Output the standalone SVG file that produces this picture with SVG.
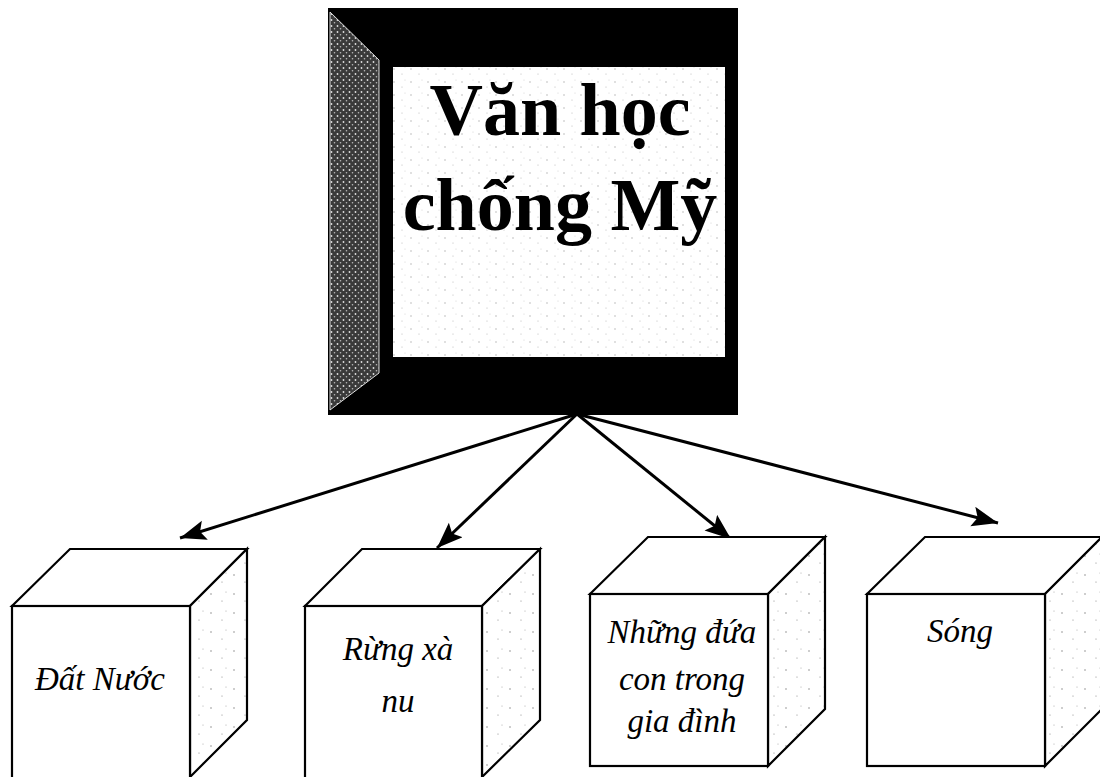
<svg xmlns="http://www.w3.org/2000/svg" width="1100" height="777" viewBox="0 0 1100 777">
<style>
.cube{fill:#fff;stroke:#000;stroke-width:2.2;stroke-linejoin:miter}
.side{fill:url(#speck);stroke:#000;stroke-width:2.2}
.lbl{font-family:"Liberation Serif","Times New Roman",serif;font-style:italic;font-size:33px;fill:#000;text-anchor:middle}
.title{font-family:"Liberation Serif","Times New Roman",serif;font-weight:bold;font-size:74px;fill:#000;text-anchor:middle}
.conn{stroke:#000;stroke-width:3;fill:none;marker-end:url(#arr)}
</style>
<defs>
<marker id="arr" markerUnits="userSpaceOnUse" markerWidth="30" markerHeight="22" refX="26" refY="10" orient="auto">
<path d="M0,0 L26,10 L0,20 L5,10 z" fill="#000"/>
</marker>
<pattern id="speck" width="23" height="19" patternUnits="userSpaceOnUse">
<rect width="23" height="19" fill="#fff"/>
<circle cx="4" cy="5" r="0.7" fill="#777"/>
<circle cx="15" cy="12" r="0.6" fill="#888"/>
<circle cx="19" cy="3" r="0.5" fill="#999"/>
</pattern>
<pattern id="paper" width="17" height="13" patternUnits="userSpaceOnUse">
<rect width="17" height="13" fill="#fff"/>
<circle cx="3" cy="4" r="0.7" fill="#aaa"/>
<circle cx="11" cy="9" r="0.6" fill="#bbb"/>
<circle cx="14" cy="2" r="0.5" fill="#ccc"/>
</pattern>
<pattern id="dark" width="6" height="6" patternUnits="userSpaceOnUse">
<rect width="6" height="6" fill="#3a3a3a"/>
<circle cx="1.5" cy="2" r="0.9" fill="#e0e0e0"/>
<circle cx="4.5" cy="4.8" r="0.8" fill="#bbb"/>
</pattern>
</defs>

<g id="root">
<rect x="328" y="8" width="410" height="407" fill="#000"/>
<polygon points="330,12 379,60 379,373 330,410" fill="url(#dark)" stroke="#ddd" stroke-width="1"/>
<rect x="393" y="67" width="332" height="290" fill="url(#paper)"/>
<text class="title" x="560" y="135">Văn học</text>
<text class="title" x="560" y="230">chống Mỹ</text>
</g>

<g id="connectors">
<line class="conn" x1="577" y1="414" x2="180" y2="538"/>
<line class="conn" x1="577" y1="414" x2="437" y2="548"/>
<line class="conn" x1="577" y1="414" x2="731" y2="539"/>
<line class="conn" x1="577" y1="414" x2="998" y2="523"/>
</g>

<g id="cube-dat-nuoc">
<polygon class="cube" points="12,606 70,549 247,549 190,606"/>
<polygon class="side" points="190,606 247,549 247,720 190,777"/>
<rect class="cube" x="12" y="606" width="178" height="180"/>
<text class="lbl" x="100" y="690">Đất Nước</text>
</g>

<g id="cube-rung-xa-nu">
<polygon class="cube" points="305,606 362,549 540,549 482,606"/>
<polygon class="side" points="482,606 540,549 540,720 482,777"/>
<rect class="cube" x="305" y="606" width="177" height="180"/>
<text class="lbl" x="398" y="660">Rừng xà</text>
<text class="lbl" x="398" y="712">nu</text>
</g>

<g id="cube-nhung-dua-con">
<polygon class="cube" points="590,594 648,537 825,537 768,594"/>
<polygon class="side" points="768,594 825,537 825,709 768,766"/>
<rect class="cube" x="590" y="594" width="178" height="172"/>
<text class="lbl" x="682" y="643">Những đứa</text>
<text class="lbl" x="682" y="690">con trong</text>
<text class="lbl" x="682" y="732">gia đình</text>
</g>

<g id="cube-song">
<polygon class="cube" points="867,594 925,537 1102,537 1045,594"/>
<polygon class="side" points="1045,594 1102,537 1102,709 1045,766"/>
<rect class="cube" x="867" y="594" width="178" height="172"/>
<text class="lbl" x="960" y="642">Sóng</text>
</g>
</svg>
